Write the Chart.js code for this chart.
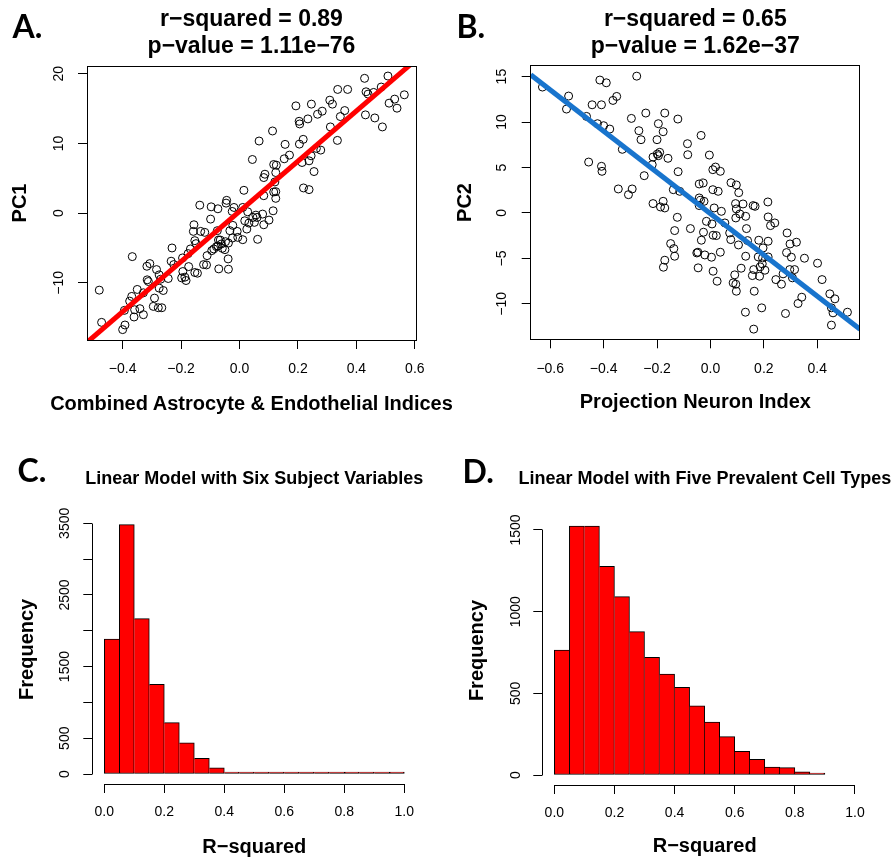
<!DOCTYPE html>
<html><head><meta charset="utf-8">
<script src="https://cdn.jsdelivr.net/npm/chart.js@4.4.1/dist/chart.umd.min.js"></script>
<style>
html,body{margin:0;padding:0;background:#fff;}
#wrap{position:relative;width:896px;height:860px;overflow:hidden;background:#fff;}
canvas{position:absolute;}
.lbl{position:absolute;font-family:'Lato','Open Sans',sans-serif;font-weight:700;font-size:32px;line-height:32px;color:#000;white-space:nowrap;}
.ttl{position:absolute;font-family:'Liberation Sans',Arial,sans-serif;font-weight:700;color:#000;text-align:center;white-space:nowrap;}
</style></head>
<body><div id="wrap">
<canvas id="cA" width="448" height="430" style="left:0px;top:0px"></canvas>
<canvas id="cB" width="448" height="430" style="left:448px;top:0px"></canvas>
<canvas id="cC" width="448" height="430" style="left:0px;top:430px"></canvas>
<canvas id="cD" width="448" height="430" style="left:448px;top:430px"></canvas>
<div class="lbl" style="left:12.5px;top:9.6px">A.</div>
<div class="lbl" style="left:456.5px;top:9.6px">B.</div>
<div class="lbl" style="left:17.5px;top:453.6px">C.</div>
<div class="lbl" style="left:462.5px;top:454.6px">D.</div>
<div class="ttl" style="left:-48.5px;width:600px;top:4.5px;font-size:23px;line-height:27px">r−squared = 0.89<br>p−value = 1.11e−76</div>
<div class="ttl" style="left:395.3px;width:600px;top:4.5px;font-size:23px;line-height:27px">r−squared = 0.65<br>p−value = 1.62e−37</div>
<div class="ttl" style="left:-48.5px;width:600px;top:390.7px;font-size:20px;line-height:24px">Combined Astrocyte &amp; Endothelial Indices</div>
<div class="ttl" style="left:-45.7px;width:600px;top:467.3px;font-size:18px;line-height:22px">Linear Model with Six Subject Variables</div>
<div class="ttl" style="left:404.8px;width:600px;top:467.3px;font-size:18px;line-height:22px">Linear Model with Five Prevalent Cell Types</div>
</div>
<script>
// ---------- Panel A data: Combined Astrocyte & Endothelial Indices vs PC1 ----------
const astroIndex = [0.428,0.508,0.433,0.440,0.459,0.485,0.531,0.564,0.512,0.539,0.431,0.463,0.489,0.336,0.370,0.309,0.318,0.193,0.246,0.283,0.267,0.360,0.345,0.234,0.206,0.204,0.311,0.335,0.218,0.205,0.113,0.067,0.156,0.278,0.263,0.245,0.171,0.153,0.214,0.238,0.044,0.117,0.126,0.087,0.124,0.255,0.083,0.121,0.219,0.238,0.015,0.117,0.124,0.083,0.124,-0.044,
-0.136,-0.097,-0.074,-0.046,-0.019,-0.025,0.011,0.028,0.079,0.115,-0.099,-0.156,-0.158,-0.133,-0.119,-0.023,-0.033,-0.008,0.025,0.046,0.056,0.060,0.051,0.032,0.018,0.083,0.101,0.062,0.011,-0.006,-0.024,-0.076,-0.072,-0.066,-0.048,-0.062,-0.038,-0.079,-0.074,-0.059,-0.050,-0.095,-0.088,-0.111,-0.123,-0.113,-0.153,-0.149,-0.168,-0.176,-0.231,-0.234,-0.225,-0.195,-0.187,-0.198,-0.183,-0.174,-0.153,-0.144,-0.194,-0.071,-0.038,-0.039,-0.367,-0.307,-0.317,-0.284,-0.275,-0.261,-0.275,-0.270,-0.244,-0.316,-0.312,-0.291,-0.266,-0.278,-0.295,-0.329,-0.350,-0.369,-0.376,-0.394,-0.361,-0.341,-0.329,-0.359,-0.400,-0.392,-0.472,-0.480];
const pc1 = [19.33,19.66,17.40,17.07,17.31,18.08,16.35,16.97,15.77,15.05,14.09,13.65,12.36,17.74,17.74,16.20,15.63,15.38,15.63,14.62,14.18,14.71,13.85,13.51,12.79,13.17,12.36,10.43,10.58,9.90,11.78,10.34,9.86,9.04,9.28,8.22,8.32,7.79,7.26,7.50,7.69,6.97,6.88,5.58,5.82,5.96,5.10,4.47,3.61,3.37,3.27,3.03,3.08,2.50,2.12,1.83,
1.14,0.90,0.62,1.43,0.81,0.24,0.81,0.19,-0.14,0.33,-0.86,-1.67,-2.62,-2.62,-2.76,-1.76,-2.52,-2.62,-2.29,-0.62,-0.29,-0.62,-1.33,-1.43,-1.10,-1.67,-1.00,-3.76,-3.81,-3.48,-3.57,-2.52,-3.86,-3.86,-4.10,-4.43,-4.29,-4.81,-4.71,-5.05,-5.24,-5.38,-5.14,-6.10,-7.38,-7.43,-3.95,-4.38,-5.14,-5.81,-5.00,-6.90,-7.38,-6.43,-9.19,-9.29,-9.67,-7.67,-8.52,-8.62,-8.38,-8.00,-8.05,-6.57,-6.24,-7.24,-7.62,-8.10,-8.86,-11.10,-10.76,-9.48,-9.38,-9.57,-9.81,-12.19,-13.57,-13.57,-13.38,-11.43,-10.95,-11.95,-12.62,-13.95,-14.90,-13.71,-14.57,-13.86,-16.71,-16.05,-15.67,-11.05];
const fitA_slope = 36.0, fitA_intercept = 0.25;

// ---------- Panel B data: Projection Neuron Index vs PC2 ----------
const projIndex = [-0.629,-0.539,-0.531,-0.464,-0.443,-0.408,-0.423,-0.400,-0.377,-0.414,-0.390,-0.365,-0.351,-0.276,-0.296,-0.242,-0.171,-0.122,-0.195,-0.268,-0.260,-0.200,-0.177,-0.215,-0.190,-0.195,-0.199,-0.159,-0.086,-0.085,-0.035,-0.004,0.019,0.037,0.009,0.077,0.097,0.106,-0.456,-0.408,-0.406,-0.330,-0.248,-0.218,-0.121,-0.345,-0.293,-0.307,-0.139,-0.115,-0.027,-0.042,0.009,0.029,
-0.215,-0.187,-0.177,-0.171,-0.124,-0.134,-0.075,-0.042,-0.037,-0.024,-0.042,-0.015,0.006,-0.026,-0.034,-0.051,-0.021,0.004,0.037,0.010,0.022,0.014,0.041,0.054,0.072,0.076,0.094,0.097,0.122,0.095,0.110,0.132,0.135,0.105,0.132,0.139,0.160,0.167,0.215,0.216,0.225,0.241,0.181,0.197,0.216,0.179,0.195,0.216,0.186,0.194,0.184,0.204,0.162,0.157,0.115,0.091,0.085,0.095,0.097,0.131,0.164,0.192,0.162,-0.047,-0.046,0.010,0.025,-0.149,-0.137,-0.134,-0.171,-0.176,0.245,0.266,0.272,0.297,0.315,0.287,0.298,0.322,0.303,0.307,0.352,0.401,0.418,0.328,0.342,0.281,0.447,0.466,0.453,0.459,0.513,0.453,0.285];
const pc2 = [13.85,11.43,12.86,10.62,11.90,11.90,9.82,9.60,9.23,14.62,14.32,12.38,12.82,15.05,10.40,10.99,10.99,10.33,9.82,9.05,8.06,8.06,8.94,6.15,6.67,6.30,6.48,6.01,7.62,6.41,8.53,6.37,5.05,4.58,4.76,3.33,3.08,2.23,5.60,5.13,4.58,7.00,4.10,5.31,4.54,2.64,2.64,2.01,2.56,2.38,3.30,3.19,2.56,2.38,
1.03,0.66,1.28,0.55,-0.48,-1.94,-1.72,1.65,1.39,1.28,0.81,-0.92,-1.21,-2.12,-3.00,-4.40,-4.62,-4.87,-4.32,-2.45,-2.49,0.55,0.18,-1.10,-2.20,-2.93,1.03,0.44,0.99,-0.55,-0.11,-0.37,-1.72,-3.52,-4.76,-3.04,0.81,0.73,1.21,-0.44,-1.39,-1.10,-3.00,-3.85,-3.11,-4.84,-4.95,-4.84,-5.93,-5.60,-6.96,-6.30,-6.23,-6.89,-6.08,-6.81,-7.69,-7.84,-8.61,-10.92,-8.61,-10.44,-12.78,-4.32,-6.04,-6.41,-7.51,-3.37,-3.92,-4.76,-5.20,-5.97,-7.33,-7.84,-6.70,-6.23,-6.23,-2.20,-3.41,-3.22,-4.87,-7.14,-4.98,-5.53,-7.33,-9.96,-9.27,-11.06,-8.90,-9.45,-10.44,-10.99,-10.92,-12.34,-4.36];
const fitB_slope = -22.7, fitB_intercept = -0.08;

// ---------- Panels C & D data: histograms of R-squared ----------
const binCentersC = [0.025,0.075,0.125,0.175,0.225,0.275,0.325,0.375,0.425,0.475,0.525,0.575,0.625,0.675,0.725,0.775,0.825,0.875,0.925,0.975];
const countsSixSubject = [1885,3481,2169,1252,717,437,219,88,23,8,5,4,3,3,2,2,3,3,2,4];
const binCentersD = [0.025,0.075,0.125,0.175,0.225,0.275,0.325,0.375,0.425,0.475,0.525,0.575,0.625,0.675,0.725,0.775,0.825,0.875];
const countsFiveCell = [765,1524,1524,1278,1092,878,720,618,537,424,324,235,145,96,49,45,20,6];

// tick values
const ticksAx = [-0.4,-0.2,0,0.2,0.4,0.6];
const ticksAy = [-10,0,10,20];
const ticksBx = [-0.6,-0.4,-0.2,0,0.2,0.4];
const ticksBy = [-10,-5,0,5,10,15];
const ticksHistX = [0,0.2,0.4,0.6,0.8,1.0];
const ticksCy = [0,500,1000,1500,2000,2500,3000,3500];
const labelsCy = [0,500,1500,2500,3500];
const ticksDy = [0,500,1000,1500];

Chart.defaults.font.family = "'Liberation Sans', Arial, Helvetica, sans-serif";
Chart.defaults.color = '#000';

const minus = s => String(s).replace('-', '\u2212');
const fmt1 = v => minus(Number(v).toFixed(1));
const fmt0 = v => minus(Math.round(v));

const rAxes = {
  id: 'rAxes',
  afterDraw(chart, args, opts) {
    const {ctx, chartArea: a, scales} = chart;
    ctx.save();
    ctx.strokeStyle = '#000';
    ctx.lineWidth = 1;
    const al = p => Math.round(p - 0.5) + 0.5;
    if (opts.mode === 'box') {
      ctx.strokeRect(al(a.left), al(a.top), Math.round(a.right - a.left), Math.round(a.bottom - a.top));
    } else {
      const xs = scales.x, ys = scales.y;
      const xt = xs.ticks, yt = ys.ticks;
      ctx.beginPath();
      ctx.moveTo(al(xs.getPixelForValue(xt[0].value)), al(a.bottom));
      ctx.lineTo(al(xs.getPixelForValue(xt[xt.length - 1].value)), al(a.bottom));
      ctx.moveTo(al(a.left), al(ys.getPixelForValue(yt[0].value)));
      ctx.lineTo(al(a.left), al(ys.getPixelForValue(yt[yt.length - 1].value)));
      ctx.stroke();
    }
    ctx.restore();
  }
};

function rScale(o) {
  return {
    type: 'linear', min: o.min, max: o.max, offset: false,
    afterBuildTicks: s => { s.ticks = o.ticks.map(v => ({value: v})); },
    afterFit: s => { if (o.width != null) s.width = o.width; if (o.height != null) s.height = o.height; },
    grid: {display: true, offset: false, drawOnChartArea: false, drawTicks: true, tickLength: 9, tickColor: '#000', tickWidth: 1, color: '#000'},
    border: {display: false},
    ticks: {autoSkip: false, padding: o.pad, font: {size: 14}, color: '#000', callback: o.fmt,
      minRotation: o.rot || 0, maxRotation: o.rot || 0, crossAlign: o.rot ? 'center' : 'near'},
    title: {display: !!o.title, text: o.title || '', color: '#000', font: {size: 20, weight: 'bold'}, padding: {top: o.tpad || 0, bottom: o.tpad || 0}}
  };
}

function scatterChart(id, xs, ys, slope, intercept, color, xr, yr, lay) {
  const pts = xs.map((x, i) => ({x: x, y: ys[i]}));
  const line = [xr[0], xr[1]].map(x => ({x: x, y: intercept + slope * x}));
  new Chart(document.getElementById(id), {
    type: 'scatter',
    data: {datasets: [
      {data: line, showLine: true, borderColor: color, borderWidth: 5, pointRadius: 0, clip: 0, order: 0},
      {data: pts, pointRadius: 4, pointBorderWidth: 1, pointBorderColor: '#000', pointBackgroundColor: 'rgba(0,0,0,0)', order: 1}
    ]},
    options: {
      responsive: false, animation: false, events: [],
      layout: {autoPadding: false, padding: lay.padding},
      plugins: {legend: {display: false}, tooltip: {enabled: false}, rAxes: {mode: 'box'}},
      scales: {
        x: rScale({min: xr[0], max: xr[1], ticks: lay.xt, height: lay.xh, pad: lay.xpad, fmt: fmt1, title: lay.xtitle, tpad: lay.xtpad}),
        y: rScale({min: yr[0], max: yr[1], ticks: lay.yt, width: lay.yw, pad: lay.ypad, fmt: fmt0, rot: 90, title: lay.ytitle, tpad: lay.ytpad})
      }
    },
    plugins: [rAxes]
  });
}

function histChart(id, centers, counts, yr, yt, ylabels, lay) {
  const last = counts.length - 1;
  new Chart(document.getElementById(id), {
    type: 'bar',
    data: {datasets: [{
      data: centers.map((c, i) => ({x: c, y: counts[i]})),
      backgroundColor: '#ff0000', borderColor: '#000', borderSkipped: false, minBarLength: 2,
      barPercentage: 1, categoryPercentage: 1, grouped: false,
      borderWidth: ctx => {
        const i = ctx.dataIndex;
        return {top: 1, bottom: 1,
          left: (i === 0 || counts[i] > counts[i - 1]) ? 1 : 0,
          right: (i === last || counts[i] >= counts[i + 1]) ? 1 : 0};
      }
    }]},
    options: {
      responsive: false, animation: false, events: [],
      layout: {autoPadding: false, padding: lay.padding},
      plugins: {legend: {display: false}, tooltip: {enabled: false}, rAxes: {mode: 'axes'}},
      scales: {
        x: rScale({min: -0.04, max: 1.04, ticks: ticksHistX, height: lay.xh, pad: lay.xpad, fmt: fmt1, title: 'R\u2212squared', tpad: lay.xtpad}),
        y: rScale({min: yr[0], max: yr[1], ticks: yt, width: lay.yw, pad: lay.ypad, rot: 90,
          fmt: v => (ylabels.indexOf(v) >= 0 ? String(v) : ''), title: 'Frequency', tpad: lay.ytpad})
      }
    },
    plugins: [rAxes]
  });
}

scatterChart('cA', astroIndex, pc1, fitA_slope, fitA_intercept, '#ff0000', [-0.522, 0.604], [-18.2, 21.1], {
  padding: {left: 0, top: 66, right: 32, bottom: 0}, xt: ticksAx, yt: ticksAy, xh: 90, yw: 87,
  xpad: 11.6, ypad: 6.8, xtitle: null, ytitle: 'PC1', xtpad: 15.3, ytpad: 8.5});

scatterChart('cB', projIndex, pc2, fitB_slope, fitB_intercept, '#1874cd', [-0.673, 0.56], [-13.9, 16.2], {
  padding: {left: 0, top: 65.7, right: 36, bottom: 0}, xt: ticksBx, yt: ticksBy, xh: 90.7, yw: 82.7,
  xpad: 12.3, ypad: 8.1, xtitle: 'Projection Neuron Index', ytitle: 'PC2', xtpad: 15.3, ytpad: 5.5});

histChart('cC', binCentersC, countsSixSubject, [-139.2, 3620.2], ticksCy, labelsCy, {
  padding: {left: 0, top: 84.7, right: 31.7, bottom: 0}, xh: 76, yw: 92.3, xpad: 10.3, ypad: 2.7, xtpad: 1, ytpad: 15.5});

histChart('cD', binCentersD, countsFiveCell, [-61, 1585], ticksDy, ticksDy, {
  padding: {left: 0, top: 86.1, right: 29, bottom: 0}, xh: 75, yw: 94.3, xpad: 10.3, ypad: 2.0, xtpad: 1.3, ytpad: 17.5});
</script>
</body></html>
